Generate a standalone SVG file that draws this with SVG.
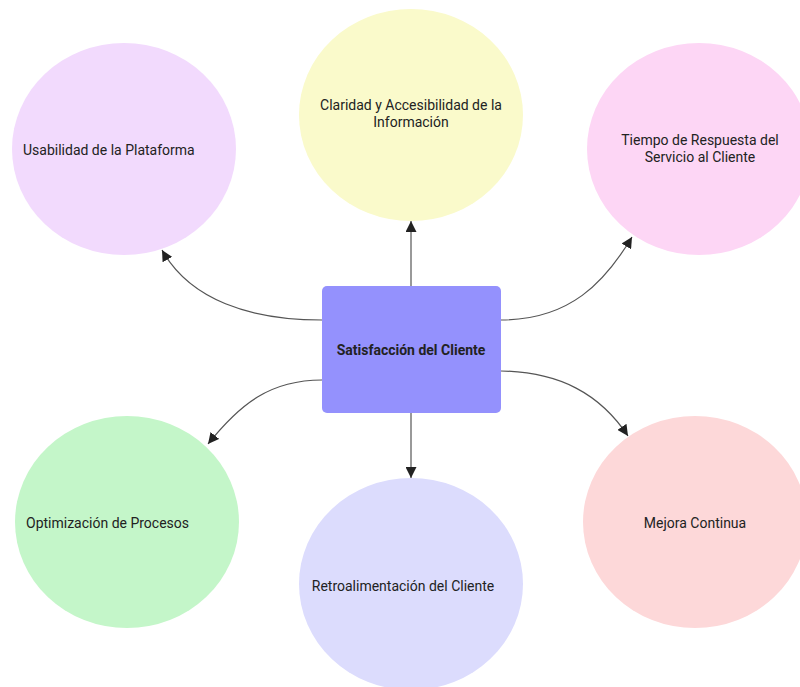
<svg xmlns="http://www.w3.org/2000/svg" width="800" height="687" viewBox="0 0 800 687">
<style>
.lbl{font-family:Roboto,"Liberation Sans",Arial,sans-serif;font-size:14px;fill:#222}
.c{text-anchor:middle}
.edge{fill:none;stroke:#555;stroke-width:1.2}
</style>
<defs>
<marker id="arr" viewBox="0 0 10 10" refX="10" refY="5" markerWidth="11" markerHeight="11" markerUnits="userSpaceOnUse" orient="auto">
<path d="M0,0 L10,5 L0,10 z" fill="#222"/>
</marker>
</defs>
<rect width="800" height="687" fill="#fff"/>
<g id="n-usabilidad">
<ellipse cx="124" cy="149" rx="112" ry="106" fill="#F2DAFD"/>
<text class="lbl" x="23" y="155">Usabilidad de la Plataforma</text>
</g>
<g id="n-claridad">
<ellipse cx="411" cy="115" rx="112" ry="106" fill="#FAFACB"/>
<text class="lbl c" x="411" y="110">Claridad y Accesibilidad de la</text>
<text class="lbl c" x="411" y="127">Información</text>
</g>
<g id="n-tiempo">
<ellipse cx="699" cy="149" rx="112" ry="106" fill="#FDD6F5"/>
<text class="lbl c" x="700" y="145">Tiempo de Respuesta del</text>
<text class="lbl c" x="700" y="162">Servicio al Cliente</text>
</g>
<g id="n-optimizacion">
<ellipse cx="127" cy="522" rx="112" ry="106" fill="#C4F6C9"/>
<text class="lbl" x="26" y="528">Optimización de Procesos</text>
</g>
<g id="n-retro">
<ellipse cx="411" cy="584" rx="112" ry="106" fill="#DCDCFD"/>
<text class="lbl c" x="403" y="591">Retroalimentación del Cliente</text>
</g>
<g id="n-mejora">
<ellipse cx="695" cy="522" rx="112" ry="106" fill="#FDD8D9"/>
<text class="lbl c" x="695" y="528">Mejora Continua</text>
</g>
<g id="connectors">
<path class="edge" d="M411,286 L411,221" marker-end="url(#arr)"/>
<path class="edge" d="M411,413 L411,478" marker-end="url(#arr)"/>
<path class="edge" d="M322,320 C250,320 190,300 162,250" marker-end="url(#arr)"/>
<path class="edge" d="M501,320 C570,320 605,282 632,237" marker-end="url(#arr)"/>
<path class="edge" d="M322,380 C270,380 240,404 208,444" marker-end="url(#arr)"/>
<path class="edge" d="M501,371 C560,372 600,394 628,436" marker-end="url(#arr)"/>
</g>
<g id="n-satisfaccion">
<rect x="322" y="286" width="179" height="127" rx="5" fill="#9491FD"/>
<text class="lbl c" x="411" y="355" font-weight="bold" fill="#111">Satisfacción del Cliente</text>
</g>
</svg>
